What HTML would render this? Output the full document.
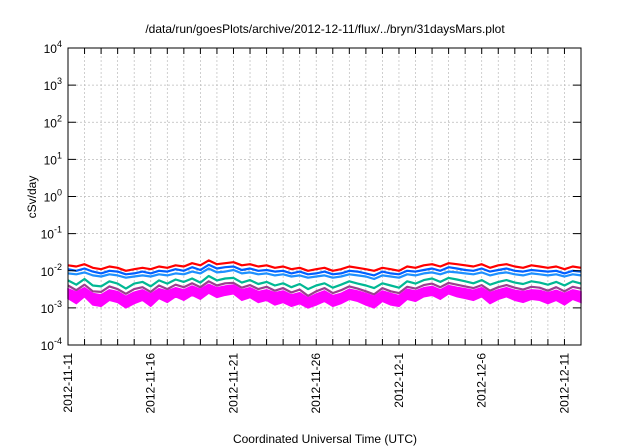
<!DOCTYPE html>
<html><head><meta charset="utf-8"><style>
body{margin:0;background:#fff}
svg{display:block;font-family:"Liberation Sans",sans-serif}
</style></head><body>
<svg id="c" width="640" height="448">
<text x="325" y="33" font-size="12" text-anchor="middle">/data/run/goesPlots/archive/2012-12-11/flux/../bryn/31daysMars.plot</text>
<text x="325" y="443" font-size="12" text-anchor="middle">Coordinated Universal Time (UTC)</text>
<text transform="translate(36,197) rotate(-90)" font-size="12" text-anchor="middle">cSv/day</text>
<g id="grid"></g><g id="series"></g><g id="axes"></g>
</svg>
<script>
const xTickLabels=["2012-11-11","2012-11-16","2012-11-21","2012-11-26","2012-12-1","2012-12-6","2012-12-11"];
const xTickDays=[0,5,10,15,20,25,30];
const yTickExps=[-4,-3,-2,-1,0,1,2,3,4];
const seriesColors=["#ff00ff","#ffd700","#9b3f8f","#00b894","#0060ff","#1e90ff","#ff0000"];
const red=[1.4,1.3,1.5,1.2,1.1,1.3,1.2,1.0,1.1,1.2,1.1,1.3,1.2,1.4,1.3,1.6,1.4,1.9,1.5,1.6,1.7,1.4,1.5,1.3,1.4,1.2,1.3,1.1,1.2,1.0,1.1,1.2,1.0,1.1,1.3,1.2,1.1,1.0,1.2,1.1,1.0,1.3,1.2,1.4,1.5,1.3,1.6,1.5,1.4,1.3,1.5,1.2,1.4,1.5,1.3,1.2,1.4,1.3,1.2,1.3,1.1,1.3,1.2];
const blue=[1.1,1.0,1.15,0.95,0.85,1.0,0.95,0.8,0.85,0.95,0.85,1.0,0.95,1.1,1.0,1.25,1.05,1.45,1.15,1.25,1.3,1.05,1.15,1.0,1.05,0.95,1.0,0.85,0.95,0.8,0.85,0.95,0.8,0.85,1.0,0.95,0.85,0.75,0.95,0.85,0.8,1.0,0.95,1.05,1.15,1.0,1.25,1.15,1.05,1.0,1.15,0.95,1.05,1.15,1.0,0.95,1.05,1.0,0.95,1.0,0.85,1.0,0.95];
const lightblue=[0.85,0.8,0.9,0.75,0.7,0.8,0.75,0.65,0.7,0.75,0.7,0.8,0.75,0.85,0.8,0.95,0.85,1.15,0.9,0.95,1.05,0.85,0.9,0.8,0.85,0.75,0.8,0.7,0.75,0.65,0.7,0.75,0.65,0.7,0.8,0.75,0.7,0.6,0.75,0.7,0.65,0.8,0.75,0.85,0.9,0.8,0.95,0.9,0.85,0.8,0.9,0.75,0.85,0.9,0.8,0.75,0.85,0.8,0.75,0.8,0.7,0.8,0.75];
const teal=[0.55,0.42,0.6,0.4,0.38,0.52,0.45,0.33,0.45,0.5,0.38,0.55,0.45,0.58,0.5,0.62,0.48,0.72,0.55,0.62,0.64,0.48,0.56,0.44,0.5,0.4,0.46,0.36,0.44,0.32,0.4,0.46,0.35,0.42,0.52,0.45,0.4,0.34,0.46,0.4,0.35,0.52,0.45,0.56,0.62,0.5,0.64,0.58,0.52,0.46,0.56,0.42,0.5,0.56,0.48,0.44,0.52,0.48,0.42,0.5,0.4,0.52,0.45];
const purple=[0.4,0.3,0.42,0.28,0.27,0.38,0.32,0.24,0.32,0.36,0.27,0.4,0.32,0.42,0.36,0.46,0.36,0.52,0.4,0.46,0.47,0.35,0.41,0.32,0.37,0.29,0.34,0.26,0.31,0.21,0.28,0.34,0.25,0.3,0.38,0.33,0.28,0.23,0.34,0.28,0.25,0.37,0.33,0.41,0.45,0.36,0.47,0.42,0.38,0.34,0.41,0.29,0.36,0.41,0.35,0.31,0.37,0.35,0.29,0.36,0.28,0.37,0.33];
const yellow=[0.3,0.25,0.32,0.22,0.2,0.28,0.25,0.18,0.24,0.27,0.21,0.3,0.26,0.32,0.28,0.36,0.3,0.4,0.32,0.36,0.37,0.28,0.32,0.26,0.28,0.23,0.26,0.2,0.23,0.16,0.21,0.26,0.19,0.22,0.29,0.26,0.22,0.18,0.26,0.22,0.19,0.29,0.26,0.32,0.35,0.28,0.37,0.33,0.3,0.27,0.32,0.23,0.28,0.32,0.27,0.25,0.28,0.27,0.23,0.27,0.22,0.28,0.25];
const magenta=[0.32,0.26,0.34,0.24,0.22,0.3,0.27,0.2,0.26,0.3,0.23,0.32,0.28,0.34,0.3,0.38,0.31,0.42,0.34,0.38,0.4,0.3,0.34,0.27,0.3,0.25,0.28,0.22,0.25,0.18,0.23,0.28,0.21,0.24,0.31,0.28,0.24,0.2,0.28,0.24,0.21,0.31,0.28,0.34,0.37,0.3,0.39,0.35,0.32,0.29,0.34,0.25,0.3,0.34,0.29,0.27,0.3,0.29,0.25,0.29,0.24,0.3,0.27];
const magentaLow=[0.18,0.13,0.2,0.12,0.11,0.16,0.14,0.1,0.13,0.16,0.11,0.18,0.14,0.2,0.16,0.22,0.17,0.25,0.19,0.22,0.24,0.16,0.19,0.14,0.16,0.12,0.14,0.11,0.13,0.1,0.12,0.15,0.11,0.13,0.17,0.15,0.12,0.1,0.15,0.12,0.11,0.17,0.15,0.2,0.22,0.17,0.24,0.2,0.18,0.16,0.2,0.13,0.17,0.2,0.16,0.14,0.17,0.16,0.13,0.16,0.12,0.17,0.14];
const L=68,R=581,T=48,B=345,NDAYS=31;
const NS="http://www.w3.org/2000/svg";
const xs=d=>L+(R-L)*d/NDAYS;
const ys=v=>B-(B-T)*(Math.log10(v)+4)/8;
function mk(tag,parent,attrs){const e=document.createElementNS(NS,tag);for(const k in attrs)e.setAttribute(k,attrs[k]);parent.appendChild(e);return e;}
const grid=document.getElementById('grid'),axes=document.getElementById('axes'),ser=document.getElementById('series');
for(let d=1;d<NDAYS;d++){const l=mk('line',grid,{x1:xs(d),x2:xs(d),y1:T,y2:B,stroke:'#bbb','stroke-dasharray':'2,2','stroke-width':0.7});


mk('line',axes,{x1:xs(d),x2:xs(d),y1:B,y2:B-6,stroke:'#000'});mk('line',axes,{x1:xs(d),x2:xs(d),y1:T,y2:T+6,stroke:'#000'});}
yTickExps.forEach(e=>{const y=ys(Math.pow(10,e));
if(e>-4&&e<4){const g=mk('line',grid,{x1:L,x2:R,y1:y,y2:y,stroke:'#bbb','stroke-dasharray':'2,2','stroke-width':0.7});

}
mk('line',axes,{x1:L,x2:L+8,y1:y,y2:y,stroke:'#000'});mk('line',axes,{x1:R,x2:R-8,y1:y,y2:y,stroke:'#000'});
const t=mk('text',axes,{x:L-6,y:y+5,'font-size':12,'text-anchor':'end'});


t.textContent='10';const s=mk('tspan',t,{dy:-6,'font-size':9});s.textContent=e;});
xTickLabels.forEach((lab,i)=>{const x=xs(xTickDays[i]);
const t=mk('text',axes,{transform:`translate(${x+4},${B+8}) rotate(-90)`,'font-size':12,'text-anchor':'end'});


t.textContent=lab;});
const bx=mk('rect',axes,{x:L,y:T,width:R-L,height:B-T,fill:'none',stroke:'#000'});


const pt=(arr,k)=>xs(k*NDAYS/(arr.length-1)).toFixed(1)+','+ys(arr[k]*1e-2).toFixed(1);
const all=[magenta,yellow,purple,teal,blue,lightblue,red];
const names=['magenta','yellow','purple','teal','blue','light-blue','red'];
all.slice().reverse().forEach((arr,ri)=>{const i=all.length-1-ri;
if(i===0){const top=arr.map((v,k)=>pt(arr,k));const bot=magentaLow.map((v,k)=>pt(magentaLow,k)).reverse();
const band=mk('polygon',ser,{points:top.concat(bot).join(' '),fill:'#ff00ff',stroke:'#ff00ff','stroke-width':1.5});

}
const pts=arr.map((v,k)=>pt(arr,k)).join(' ');
const p=mk('polyline',ser,{points:pts,fill:'none',stroke:seriesColors[i],'stroke-width':2.2,'stroke-linejoin':'round'});

});
</script>
</body></html>
